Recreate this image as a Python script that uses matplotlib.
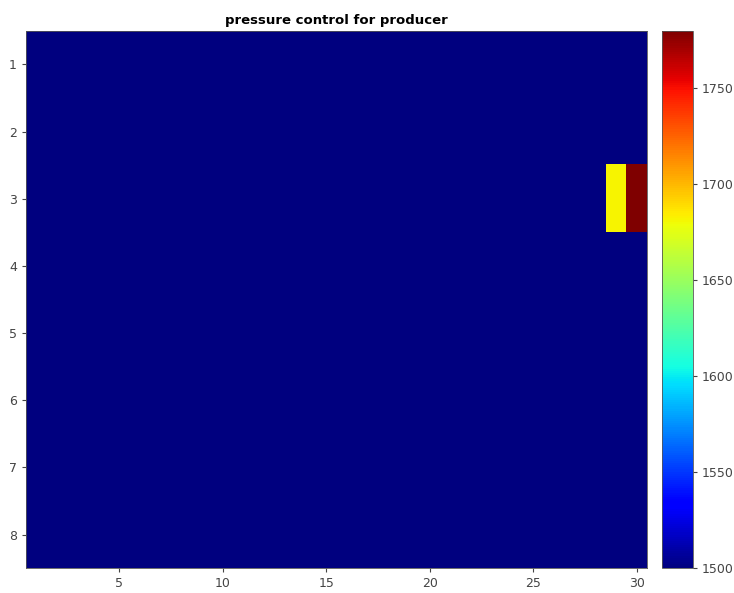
import matplotlib
matplotlib.use("Agg")
import matplotlib.pyplot as plt
import numpy as np

# pressure grid, 8 rows x 30 cols
n_rows = 8
n_cols = 30
base_pressure = 1500
hot_row = 3
hot_cols = [29, 30]
hot_values = [1682, 1780]

grid = np.full((n_rows, n_cols), base_pressure, dtype=float)
for c, v in zip(hot_cols, hot_values):
    grid[hot_row - 1, c - 1] = v

x_ticks = [5, 10, 15, 20, 25, 30]
y_ticks = [1, 2, 3, 4, 5, 6, 7, 8]
cb_ticks = [1500, 1550, 1600, 1650, 1700, 1750]

fig = plt.figure(figsize=(7.34, 5.93), dpi=100)
ax = fig.add_axes([0.0354, 0.042, 0.846, 0.906])
cax = fig.add_axes([0.902, 0.042, 0.042, 0.906])

im = ax.imshow(grid, cmap='jet', aspect='auto', interpolation='nearest',
               extent=[0.5, n_cols + 0.5, n_rows + 0.5, 0.5],
               vmin=grid.min(), vmax=grid.max())
ax.set_xticks(x_ticks)
ax.set_yticks(y_ticks)
ax.tick_params(labelsize=9, colors='#444444', length=3)
ax.set_title('pressure control for producer', fontsize=9.5, fontweight='bold', pad=5)
for s in ax.spines.values():
    s.set_color('#555555')
    s.set_linewidth(0.6)

cb = fig.colorbar(im, cax=cax, ticks=cb_ticks)
cb.ax.tick_params(labelsize=9, colors='#444444', length=3)
cb.outline.set_edgecolor('#555555')
cb.outline.set_linewidth(0.6)

fig.savefig('out.png', dpi=100)
